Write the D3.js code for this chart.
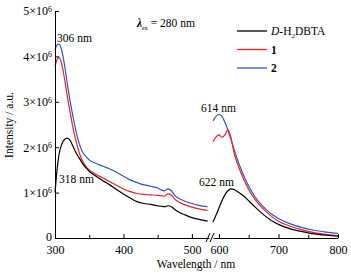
<!DOCTYPE html>
<html lang="en">
  <head>
    <meta charset="utf-8" />
    <title>Emission spectra</title>
    <script src="https://cdnjs.cloudflare.com/ajax/libs/d3/7.8.5/d3.min.js"></script>
    <style type="text/css">
      body { margin: 0; background: #fff; }
    </style>
  </head>

  <body>
    <div id="chart"></div>
    <script>
      const FONT = '"Liberation Serif", "DejaVu Serif", serif';

      // wavelength grids (nm) for the two sides of the axis break
      const waveLeft = [300, 303, 306, 310, 314, 318, 322, 326, 330, 335, 340, 345, 350, 360, 370, 380, 390,
        400, 410, 420, 430, 440, 450, 455, 460, 465, 470, 475, 480, 490, 500, 510, 523];
      const waveRight = [590, 595, 600, 605, 610, 615, 620, 625, 630, 640, 650, 660, 670, 680, 690, 700,
        720, 740, 760, 780, 800];

      // intensities in units of 10^6
      const ligandLeft = [1.0, 1.5, 1.85, 2.07, 2.17, 2.2, 2.15, 2.03, 1.9, 1.77, 1.65, 1.55, 1.47, 1.36, 1.26, 1.17, 1.07,
        0.97, 0.88, 0.8, 0.76, 0.74, 0.71, 0.7, 0.69, 0.71, 0.69, 0.63, 0.58, 0.51, 0.45, 0.41, 0.37];
      const c1Left = [3.78, 3.93, 3.98, 3.82, 3.5, 3.12, 2.78, 2.45, 2.18, 1.9, 1.7, 1.58, 1.5, 1.4, 1.32, 1.24, 1.16,
        1.08, 1.02, 0.98, 0.96, 0.95, 0.94, 0.93, 0.92, 0.97, 0.94, 0.86, 0.8, 0.73, 0.68, 0.64, 0.61];
      const c2Left = [4.15, 4.25, 4.27, 4.12, 3.8, 3.4, 3.02, 2.7, 2.4, 2.1, 1.9, 1.8, 1.72, 1.64, 1.58, 1.52, 1.45,
        1.36, 1.28, 1.22, 1.17, 1.14, 1.1, 1.06, 1.04, 1.08, 1.04, 0.94, 0.88, 0.81, 0.76, 0.72, 0.69];

      const ligandRight = [0.35, 0.5, 0.66, 0.82, 0.95, 1.04, 1.08, 1.07, 1.03, 0.94, 0.82, 0.69, 0.57, 0.46, 0.37, 0.3,
        0.2, 0.14, 0.09, 0.06, 0.04];
      const c1Right = [2.12, 2.22, 2.27, 2.22, 2.27, 2.39, 2.22, 1.9, 1.68, 1.34, 1.07, 0.86, 0.7, 0.57, 0.46, 0.37,
        0.26, 0.18, 0.12, 0.08, 0.05];
      const c2Right = [2.58, 2.68, 2.72, 2.68, 2.55, 2.38, 2.18, 1.97, 1.77, 1.42, 1.14, 0.92, 0.75, 0.62, 0.51, 0.43,
        0.31, 0.23, 0.17, 0.13, 0.1];

      const seriesNames = ['D-H2DBTA', '1', '2'];
      const seriesColors = ['#000000', '#f02020', '#2a55c8'];
      const yTicks = [0, 1, 2, 3, 4, 5];
      const xTicksLeft = [300, 400, 500];
      const xMinorLeft = [350, 450];
      const xTicksRight = [600, 700, 800];
      const xMinorRight = [650, 750];

      const width = 351, height = 275;
      const svg = d3.select('#chart')
        .append('svg')
        .attr('width', width)
        .attr('height', height)
        .style('font-family', FONT);

      const y = d3.scaleLinear().domain([0, 5]).range([238, 11]);
      const xL = d3.scaleLinear().domain([300, 525]).range([55, 209]);
      const xR = d3.scaleLinear().domain([590, 800]).range([213, 338]);

      // curves
      const lineFor = xs => d3.line()
        .x(d => xs(d[0]))
        .y(d => y(d[1]))
        .curve(d3.curveMonotoneX);

      const leftSets = [ligandLeft, c1Left, c2Left];
      const rightSets = [ligandRight, c1Right, c2Right];
      [2, 1, 0].forEach(i => {
        svg.append('path')
          .attr('d', lineFor(xL)(waveLeft.map((w, j) => [w, leftSets[i][j]])))
          .attr('fill', 'none')
          .attr('stroke', seriesColors[i])
          .attr('stroke-width', 1.2);
        svg.append('path')
          .attr('d', lineFor(xR)(waveRight.map((w, j) => [w, rightSets[i][j]])))
          .attr('fill', 'none')
          .attr('stroke', seriesColors[i])
          .attr('stroke-width', 1.2);
      });

      // y axis
      const yAxis = svg.append('g')
        .attr('transform', 'translate(55,0)')
        .call(d3.axisLeft(y).tickValues(yTicks).tickSize(-4).tickSizeOuter(0).tickPadding(3));
      yAxis.selectAll('text')
        .style('font-size', '12px')
        .style('font-family', FONT)
        .each(function (d) {
          const t = d3.select(this).text(null);
          if (d === 0) { t.attr('dy', '0.2em').text('0'); return; }
          t.append('tspan').text(d + '×10');
          t.append('tspan').attr('dy', '-0.45em').style('font-size', '8px').text('6');
        });

      // x axes (two pieces around the break)
      const drawX = (scale, major, minor) => {
        const g = svg.append('g').attr('transform', 'translate(0,238)');
        g.call(d3.axisBottom(scale).tickValues(major).tickSize(-4).tickSizeOuter(0).tickPadding(7));
        g.selectAll('text').style('font-size', '12px').style('font-family', FONT);
        const m = svg.append('g').attr('transform', 'translate(0,238)');
        m.call(d3.axisBottom(scale).tickValues(minor).tickSize(-3).tickSizeOuter(0).tickFormat(''));
        m.select('.domain').remove();
      };
      drawX(xL, xTicksLeft, xMinorLeft);
      drawX(xR, xTicksRight, xMinorRight);
      svg.selectAll('.domain, .tick line').attr('stroke', '#000').attr('stroke-width', 1);

      // break marks
      [[206, 210], [210, 214]].forEach(b => {
        svg.append('line')
          .attr('x1', b[0]).attr('y1', 242).attr('x2', b[1]).attr('y2', 233)
          .attr('stroke', '#000').attr('stroke-width', 1);
      });

      // axis titles
      svg.append('text')
        .attr('transform', 'translate(13,125) rotate(-90)')
        .attr('text-anchor', 'middle')
        .style('font-size', '11.5px')
        .text('Intensity / a.u.');
      svg.append('text')
        .attr('x', 196).attr('y', 268)
        .attr('text-anchor', 'middle')
        .style('font-size', '11.5px')
        .text('Wavelength / nm');

      // peak labels
      const peakLabels = [['306 nm', 57, 42], ['318 nm', 59, 183], ['614 nm', 201, 112], ['622 nm', 199, 186]];
      svg.selectAll('.peak')
        .data(peakLabels)
        .join('text')
        .attr('class', 'peak')
        .attr('x', d => d[1]).attr('y', d => d[2])
        .style('font-size', '11.5px')
        .text(d => d[0]);

      // excitation label
      const ex = svg.append('text').attr('x', 137).attr('y', 27).style('font-size', '11.5px');
      ex.append('tspan').style('font-style', 'italic').style('font-weight', 'bold').text('λ');
      ex.append('tspan').attr('dy', 3).style('font-size', '6px').text('ex');
      ex.append('tspan').attr('dy', -3).text(' = 280 nm');

      // legend
      const legend = svg.append('g');
      seriesNames.forEach((name, i) => {
        const ly = 31 + i * 18.5;
        legend.append('line')
          .attr('x1', 237).attr('x2', 267).attr('y1', ly).attr('y2', ly)
          .attr('stroke', seriesColors[i]).attr('stroke-width', 1.3);
        const t = legend.append('text').attr('x', 271).attr('y', ly + 4).style('font-size', '11.5px');
        if (i === 0) {
          t.append('tspan').style('font-style', 'italic').text('D');
          t.append('tspan').text('-H');
          t.append('tspan').attr('dy', 3).style('font-size', '7px').text('2');
          t.append('tspan').attr('dy', -3).text('DBTA');
        } else {
          t.style('font-weight', 'bold').text(name);
        }
      });
    </script>
  </body>
</html>
